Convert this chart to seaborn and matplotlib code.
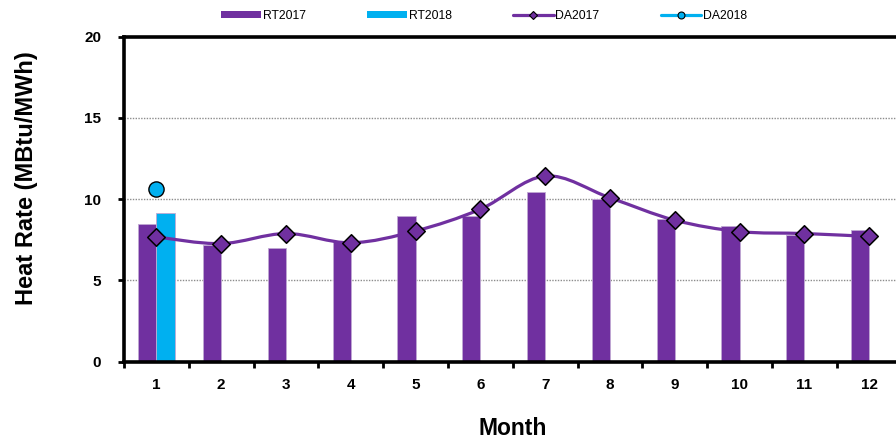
import numpy as np
import pandas as pd
import matplotlib
matplotlib.use("Agg")
import matplotlib.pyplot as plt
import seaborn as sns
from matplotlib.path import Path
from matplotlib.patches import PathPatch, Patch
from matplotlib.lines import Line2D

# === Data ===
months = ["1", "2", "3", "4", "5", "6", "7", "8", "9", "10", "11", "12"]
rt2017 = [8.45, 7.15, 7.0, 7.45, 8.95, 8.95, 10.45, 9.98, 8.8, 8.33, 7.76, 8.09]
rt2018 = [9.15]
da2017 = [7.67, 7.26, 7.88, 7.31, 8.04, 9.38, 11.42, 10.08, 8.7, 8.0, 7.88, 7.7]
da2018 = [10.64]

purple = "#7030A0"
cyan = "#00B0F0"

df_rt = pd.concat([
    pd.DataFrame({"Month": months, "Value": rt2017, "Series": "RT2017"}),
    pd.DataFrame({"Month": months[:len(rt2018)], "Value": rt2018, "Series": "RT2018"}),
], ignore_index=True)

sns.set_style("white")
plt.rcParams["font.family"] = ["Liberation Sans", "DejaVu Sans"]
plt.rcParams["text.color"] = "black"
plt.rcParams["axes.labelcolor"] = "black"
plt.rcParams["xtick.color"] = "black"
plt.rcParams["ytick.color"] = "black"

fig = plt.figure(figsize=(8.96, 4.4), dpi=100)
ax = fig.add_axes([124 / 896, 1 - 361.5 / 440, 777.6 / 896, 324.8 / 440])

# === Bars ===
sns.barplot(data=df_rt, x="Month", y="Value", hue="Series", order=months,
            hue_order=["RT2017", "RT2018"], palette=[purple, cyan],
            saturation=1, width=0.56, errorbar=None, edgecolor="#C0A8D3",
            linewidth=0.6, legend=False, ax=ax, zorder=2)

# === Smooth DA2017 line (Excel-style bezier) ===
x = np.arange(len(da2017), dtype=float)
pts = np.column_stack([x, da2017])
verts = [pts[0]]
codes = [Path.MOVETO]
n = len(pts)
for i in range(n - 1):
    p0 = pts[max(i - 1, 0)]
    p1 = pts[i]
    p2 = pts[i + 1]
    p3 = pts[min(i + 2, n - 1)]
    c1 = p1 + (p2 - p0) / 6.0
    c2 = p2 - (p3 - p1) / 6.0
    verts += [c1, c2, p2]
    codes += [Path.CURVE4] * 3
ax.add_patch(PathPatch(Path(verts, codes), fill=False, edgecolor=purple,
                       linewidth=2.3, zorder=3, capstyle="round"))

sns.scatterplot(x=x, y=da2017, marker="D", s=80, color=purple,
                edgecolor="black", linewidth=1.1, ax=ax, zorder=4)
sns.scatterplot(x=np.arange(len(da2018)), y=da2018, marker="o", s=120,
                color=cyan, edgecolor="black", linewidth=1.0, ax=ax, zorder=4)

# === Axes format ===
ax.set_xlim(-0.5, 11.5)
ax.set_ylim(0, 20)
ax.set_yticks([0, 5, 10, 15, 20])
ax.set_xticks(x)
ax.set_xticklabels(months)
ax.set_xticks(np.arange(-0.5, 12, 1), minor=True)
ax.tick_params(axis="x", which="major", length=0, pad=12,
               labelsize=11)
ax.tick_params(axis="x", which="minor", length=4.5, width=2,
               direction="out", color="black", bottom=True)
ax.tick_params(axis="y", length=4.5, width=2, direction="out",
               color="black", left=True, pad=12, labelsize=11)
for lab in ax.get_xticklabels() + ax.get_yticklabels():
    lab.set_fontweight("bold")

for y in [5, 10, 15]:
    ax.axhline(y, color="#8c8c8c", linestyle=(0, (1, 1)), linewidth=1, zorder=1)

for side in ["left", "bottom", "top"]:
    ax.spines[side].set_visible(True)
    ax.spines[side].set_color("black")
    ax.spines[side].set_linewidth(2.6)
ax.spines["right"].set_visible(False)

ax.set_ylabel("Heat Rate (MBtu/MWh)", fontsize=17, fontweight="bold")
ax.set_xlabel("Month", fontsize=16.5, fontweight="bold")
ax.yaxis.set_label_coords(-0.126, 0.566)
ax.xaxis.set_label_coords(0.5, -0.205)
ax.yaxis.label.set_verticalalignment("center")
ax.xaxis.label.set_verticalalignment("center")

# === Legend ===
handles = [
    Patch(facecolor=purple, edgecolor="none"),
    Patch(facecolor=cyan, edgecolor="none"),
    Line2D([], [], color=purple, linewidth=2.3, marker="D", markersize=4.5,
           markerfacecolor=purple, markeredgecolor="black", markeredgewidth=0.8),
    Line2D([], [], color=cyan, linewidth=2.3, marker="o", markersize=5,
           markerfacecolor=cyan, markeredgecolor="black", markeredgewidth=0.8),
]
fig.legend(handles, ["RT2017", "RT2018", "DA2017", "DA2018"], ncol=4,
           loc="center", bbox_to_anchor=(0.54, 0.964), frameon=False,
           fontsize=8.8, handlelength=3.3, handleheight=0.55,
           handletextpad=0.15, columnspacing=5.0)

fig.savefig("out.png", dpi=100)
